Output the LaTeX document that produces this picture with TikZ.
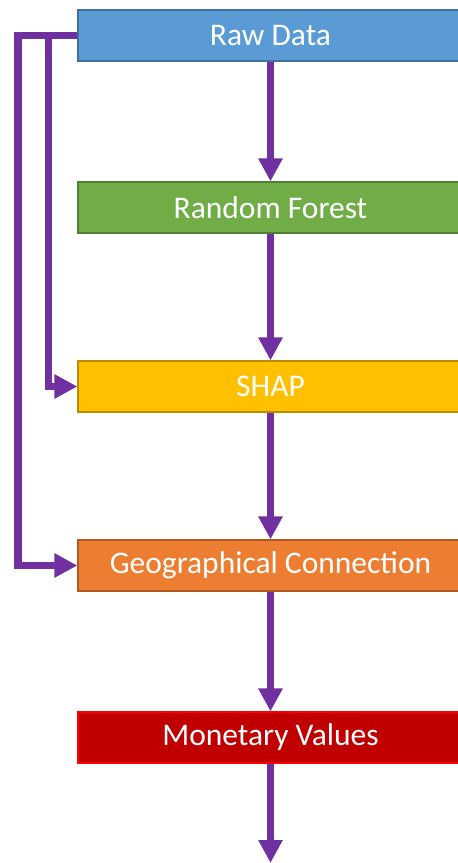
\documentclass[tikz,border=0pt]{standalone}
\usepackage{fontspec}
\setmainfont{Carlito}
\usetikzlibrary{arrows.meta}
\definecolor{arrc}{HTML}{7030A0}
\definecolor{bluef}{HTML}{5B9BD5}\definecolor{blued}{HTML}{41719C}
\definecolor{greenf}{HTML}{70AD47}\definecolor{greend}{HTML}{507E32}
\definecolor{yellf}{HTML}{FFC000}\definecolor{yelld}{HTML}{BC8C00}
\definecolor{orf}{HTML}{ED7D31}\definecolor{ord}{HTML}{AE5A21}
\definecolor{redf}{HTML}{C00000}\definecolor{redd}{HTML}{FF0000}
\tikzset{
  stepbox/.style={rectangle, minimum width=385pt, minimum height=51pt, inner sep=0pt,
    line width=1.2pt, text=white, font=\fontsize{31.5}{38}\selectfont},
  arr/.style={draw=arrc, line width=7.3pt, -{Triangle[width=23pt,length=23pt]}},
}
\begin{document}
\begin{tikzpicture}[x=1pt,y=-1pt]
\useasboundingbox (0,0) rectangle (458,863);
\node[stepbox, fill=bluef, draw=blued] (raw) at (270.5,35.5) {Raw Data};
\node[stepbox, fill=greenf, draw=greend] (rf) at (270.5,207.5) {Random Forest};
\node[stepbox, fill=yellf, draw=yelld] (shap) at (270.5,386.5) {SHAP};
\node[stepbox, fill=orf, draw=ord] (geo) at (270.5,565.5) {Geographical Connection};
\node[stepbox, fill=redf, draw=redd] (mon) at (270.5,737.5) {Monetary Values};
\coordinate (out) at (270.5,863);
\coordinate (j1) at (48.3,35.5);
\coordinate (j2) at (18,35.5);
\draw[arr] (raw.south) -- (rf.north);
\draw[arr] (rf.south) -- (shap.north);
\draw[arr] (shap.south) -- (geo.north);
\draw[arr] (geo.south) -- (mon.north);
\draw[arr] (mon.south) -- (out);
\draw[arr] (raw.west) -- (j1) |- (shap.west);
\draw[arr] (raw.west) -- (j2) |- (geo.west);
\end{tikzpicture}
\end{document}
